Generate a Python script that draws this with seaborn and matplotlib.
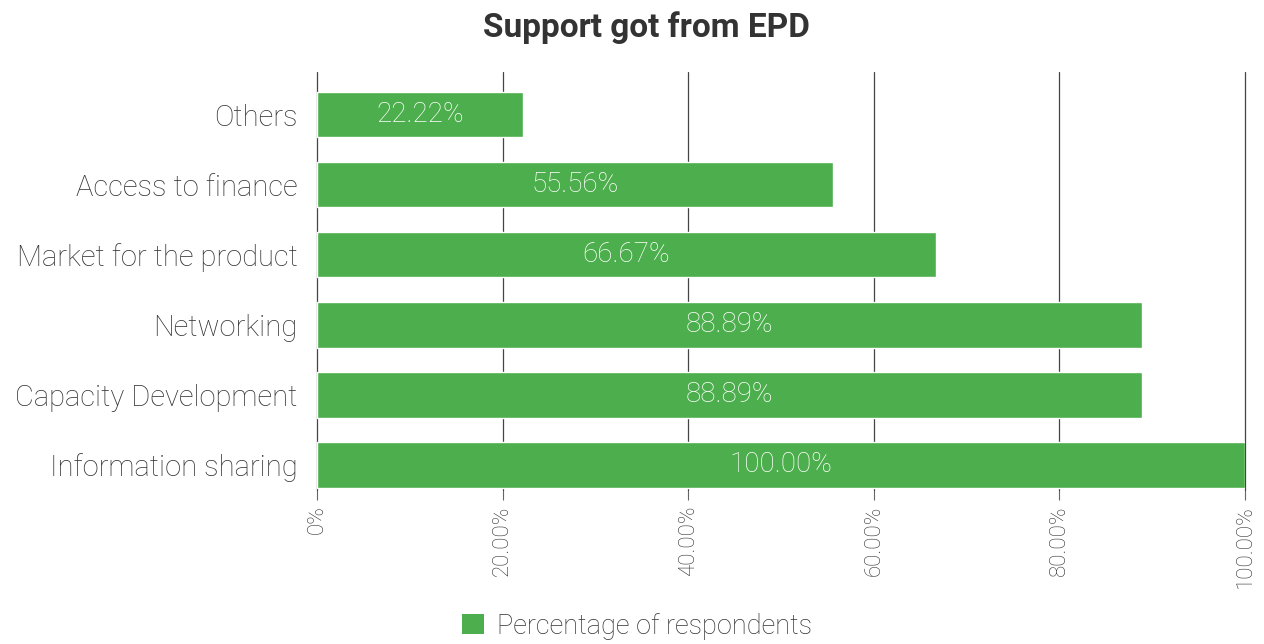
import matplotlib
matplotlib.use("Agg")
import matplotlib.pyplot as plt
from matplotlib.patches import Patch
import seaborn as sns
import pandas as pd

categories = ["Others", "Access to finance", "Market for the product",
              "Networking", "Capacity Development", "Information sharing"]
values = [22.22, 55.56, 66.67, 88.89, 88.89, 100.00]
tick_values = [0, 20, 40, 60, 80, 100]
tick_labels = ["0%", "20.00%", "40.00%", "60.00%", "80.00%", "100.00%"]
series_name = "Percentage of respondents"
title = "Support got from EPD"

GREEN = "#4CAE4C"
TEXT = "#333333"

sns.set_theme(style="white")
plt.rcParams["font.family"] = ["Roboto", "DejaVu Sans"]

df = pd.DataFrame({"category": categories, "value": values})

fig = plt.figure(figsize=(12.64, 6.44), dpi=100)
ax = fig.add_axes([317 / 1264, 1 - 490 / 644, 928 / 1264, 418 / 644])

sns.barplot(data=df, x="value", y="category", order=categories,
            color=GREEN, saturation=1, width=0.65, ax=ax, zorder=3)

ax.set_xlim(0, 100)
ax.set_ylim(5.36, -0.61)

# vertical gridlines
for t in tick_values:
    ax.axvline(t, color="#444444", lw=0.9, zorder=1, clip_on=False)

ax.set_xticks(tick_values)
ax.set_xticklabels(tick_labels, rotation=90, fontsize=16, color=TEXT,
                   fontweight="light")
ax.tick_params(axis="x", length=7, width=0.8, color="#666666", pad=4,
               bottom=True)
ax.tick_params(axis="y", length=0, pad=14)
for lab in ax.get_yticklabels():
    lab.set_fontsize(21)
    lab.set_color(TEXT)
    lab.set_fontweight("light")

ax.set_xlabel("")
ax.set_ylabel("")
for s in ax.spines.values():
    s.set_visible(False)

# value labels inside bars
for i, v in enumerate(values):
    ax.text(v / 2, i, f"{v:.2f}%", ha="center", va="center",
            color="white", fontsize=20, fontweight="light", zorder=4)

fig.text(646 / 1264, 1 - 28 / 644, title, ha="center", va="center",
         fontsize=24, fontweight="bold", color=TEXT)

handle = Patch(facecolor=GREEN, edgecolor="none")
fig.legend([handle], [series_name], loc="center",
           bbox_to_anchor=(637 / 1264, 1 - 626 / 644), frameon=False,
           prop={"family": ["Roboto", "DejaVu Sans"], "weight": "light",
                 "size": 19.5},
           labelcolor=TEXT, handlelength=0.8, handleheight=0.8,
           handletextpad=0.5)

fig.savefig("out.png", dpi=100)
